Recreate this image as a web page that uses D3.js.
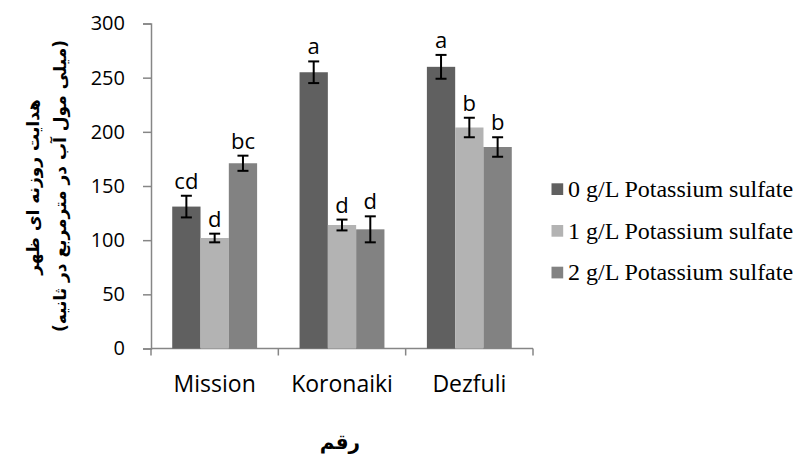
<!DOCTYPE html>
<html>
<head>
<meta charset="utf-8">
<script src="https://cdn.jsdelivr.net/npm/d3@7"></script>
<style>
  body { margin: 0; background: #fff; }
  svg text { fill: #000; }
</style>
</head>
<body>
<svg id="chart" width="795" height="457"></svg>
<script>
// cultivars on the x axis, one group of three bars each
const cultivars = ['Mission', 'Koronaiki', 'Dezfuli'];
const seriesNames = ['0 g/L Potassium sulfate', '1 g/L Potassium sulfate', '2 g/L Potassium sulfate'];
// mean values per series, in cultivar order
const dose0 = [131, 255, 260];
const dose1 = [102, 114, 204];
const dose2 = [171, 110, 186];
// +/- error per series
const err0 = [10, 10, 11];
const err1 = [4, 5, 9];
const err2 = [7, 12, 9];
// significance letters per series
const let0 = ['cd', 'a', 'a'];
const let1 = ['d', 'd', 'b'];
const let2 = ['bc', 'd', 'b'];
const yTicks = [0, 50, 100, 150, 200, 250, 300];

const colors = ['#606060', '#b3b3b3', '#828282'];
const series = [
  { name: seriesNames[0], vals: dose0, err: err0, lab: let0 },
  { name: seriesNames[1], vals: dose1, err: err1, lab: let1 },
  { name: seriesNames[2], vals: dose2, err: err2, lab: let2 },
];

const svg = d3.select('#chart');
const plotL = 151, plotR = 533, plotT = 23.5, plotB = 348.5;

const x = d3.scaleBand().domain(cultivars).range([plotL, plotR]).paddingInner(0).paddingOuter(0);
// Excel gap width 150% -> bars take 3/(3+1.5) of the band
const inner = d3.scaleBand().domain(d3.range(3)).range([0, x.bandwidth()])
  .paddingOuter(0.75).paddingInner(0);
const y = d3.scaleLinear().domain([0, 300]).range([plotB, plotT]);

const axisCol = '#868686';
const uiFont = '"Open Sans", sans-serif';

// y axis
const ya = svg.append('g').attr('transform', `translate(${plotL},0)`)
  .call(d3.axisLeft(y).tickValues(yTicks).tickSize(8).tickPadding(18));
ya.select('.domain').attr('stroke', axisCol).attr('stroke-width', 1.5);
ya.selectAll('.tick line').attr('stroke', axisCol).attr('stroke-width', 1.5);
ya.selectAll('.tick text').attr('font-family', uiFont).attr('font-size', 20).attr('fill', '#000');

// x axis: ticks at band boundaries
const xa = svg.append('g').attr('transform', `translate(0,${plotB})`);
xa.append('line').attr('x1', plotL).attr('x2', plotR).attr('stroke', axisCol).attr('stroke-width', 1.5);
xa.selectAll('line.tk').data(cultivars.concat(['end'])).join('line').attr('class', 'tk')
  .attr('x1', (d, i) => i < 3 ? x(d) : plotR).attr('x2', (d, i) => i < 3 ? x(d) : plotR)
  .attr('y1', 0).attr('y2', 7).attr('stroke', axisCol).attr('stroke-width', 1.5);
xa.selectAll('text').data(cultivars).join('text')
  .attr('x', d => x(d) + x.bandwidth() / 2).attr('y', 43.5)
  .attr('text-anchor', 'middle').attr('font-family', uiFont).attr('font-size', 23)
  .text(d => d);

// bars, error bars, letters
series.forEach((s, si) => {
  const g = svg.append('g');
  const bw = inner.bandwidth();
  const cx = c => x(c) + inner(si) + bw / 2;
  g.selectAll('rect').data(cultivars).join('rect')
    .attr('x', c => x(c) + inner(si)).attr('width', bw)
    .attr('y', (c, i) => y(s.vals[i])).attr('height', (c, i) => plotB - y(s.vals[i]))
    .attr('fill', colors[si]);
  const eb = g.selectAll('g.eb').data(cultivars).join('g').attr('class', 'eb');
  eb.append('line').attr('x1', cx).attr('x2', cx)
    .attr('y1', (c, i) => y(s.vals[i] + s.err[i])).attr('y2', (c, i) => y(s.vals[i] - s.err[i]));
  eb.append('line').attr('x1', c => cx(c) - 5.5).attr('x2', c => cx(c) + 5.5)
    .attr('y1', (c, i) => y(s.vals[i] + s.err[i])).attr('y2', (c, i) => y(s.vals[i] + s.err[i]));
  eb.append('line').attr('x1', c => cx(c) - 5.5).attr('x2', c => cx(c) + 5.5)
    .attr('y1', (c, i) => y(s.vals[i] - s.err[i])).attr('y2', (c, i) => y(s.vals[i] - s.err[i]));
  eb.selectAll('line').attr('stroke', '#000').attr('stroke-width', 2);
  g.selectAll('text').data(cultivars).join('text')
    .attr('x', cx).attr('y', (c, i) => y(s.vals[i] + s.err[i]) - 7)
    .attr('text-anchor', 'middle').attr('font-family', uiFont).attr('font-size', 22)
    .text((c, i) => s.lab[i]);
});

// legend
const lg = svg.append('g').attr('transform', 'translate(551.5,190)');
series.forEach((s, i) => {
  const row = lg.append('g').attr('transform', `translate(0,${i * 41.7})`);
  row.append('rect').attr('x', 0).attr('y', -6.7).attr('width', 11.7).attr('height', 11.7).attr('fill', colors[i]);
  row.append('text').attr('x', 16.5).attr('y', 7)
    .attr('font-family', '"Liberation Serif", "Times New Roman", serif').attr('font-size', 24)
    .text(s.name);
});

// axis titles (Persian)
const faFont = '"DejaVu Sans", sans-serif';
svg.append('text').attr('transform', 'translate(39,187) rotate(-90)')
  .attr('text-anchor', 'middle').attr('font-family', faFont).attr('font-weight', 'bold')
  .attr('font-size', 17).attr('direction', 'rtl').text('هدایت روزنه ای ظهر');
svg.append('text').attr('transform', 'translate(66,186) rotate(-90)')
  .attr('text-anchor', 'middle').attr('font-family', faFont).attr('font-weight', 'bold')
  .attr('font-size', 17).attr('direction', 'rtl').text('(میلی مول آب در مترمربع در ثانیه)');
svg.append('text').attr('x', 340).attr('y', 449)
  .attr('text-anchor', 'middle').attr('font-family', faFont).attr('font-weight', 'bold')
  .attr('font-size', 20).attr('direction', 'rtl').text('رقم');
</script>
</body>
</html>
